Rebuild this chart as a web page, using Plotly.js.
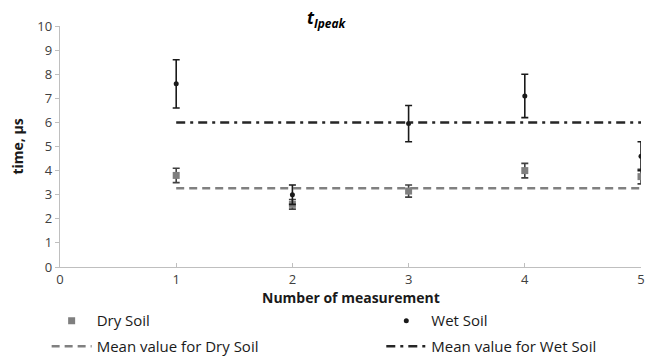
<!DOCTYPE html>
<html>
<head>
<meta charset="utf-8">
<script src="https://cdn.plot.ly/plotly-3.0.1.min.js"></script>
<style>
  html, body { margin: 0; padding: 0; background: #fff; }
  #chart { width: 648px; height: 356px; }
</style>
</head>
<body>
<div id="chart"></div>
<script>
// Measurement numbers
const measurement = [1, 2, 3, 4, 5];

// Time to current peak, µs
const drySoil = [3.8, 2.6, 3.15, 4.0, 3.75];
const dryError = [0.3, 0.2, 0.25, 0.3, 0.3];
const wetSoil = [7.6, 3.0, 5.95, 7.1, 4.6];
const wetError = [1.0, 0.4, 0.75, 0.9, 0.6];

// Mean levels drawn across the measurement range
const meanX = [1, 5];
const meanDry = [3.27, 3.27];
const meanWet = [6.0, 6.0];

const yTicks = [0, 1, 2, 3, 4, 5, 6, 7, 8, 9, 10];
const xTicks = [0, 1, 2, 3, 4, 5];

const FONT = 'Open Sans, Liberation Sans, sans-serif';

const traces = [
  {
    x: measurement, y: drySoil, name: 'Dry Soil', type: 'scatter', mode: 'markers',
    marker: { symbol: 'square', size: 7, color: '#7f7f7f' },
    error_y: { type: 'data', array: dryError, visible: true, color: '#404040', thickness: 1.6, width: 3.5 },
    legend: 'legend', legendgroup: 'a'
  },
  {
    x: meanX, y: meanDry, name: 'Mean value for Dry Soil', type: 'scatter', mode: 'lines',
    line: { color: '#808080', width: 2.5, dash: '8px,5px' },
    legend: 'legend', legendgroup: 'b'
  },
  {
    x: measurement, y: wetSoil, name: 'Wet Soil', type: 'scatter', mode: 'markers',
    marker: { symbol: 'circle', size: 5, color: '#1a1a1a' },
    error_y: { type: 'data', array: wetError, visible: true, color: '#1a1a1a', thickness: 1.6, width: 3.5 },
    legend: 'legend2', legendgroup: 'c'
  },
  {
    x: meanX, y: meanWet, name: 'Mean value for Wet Soil', type: 'scatter', mode: 'lines',
    line: { color: '#262626', width: 2.5, dash: '9px,5px,3px,5px' },
    legend: 'legend2', legendgroup: 'd'
  }
];

const legendStyle = {
  orientation: 'v', xanchor: 'left', yanchor: 'top', yref: 'container',
  font: { family: FONT, size: 15, color: '#1a1a1a' },
  bgcolor: 'rgba(0,0,0,0)', traceorder: 'grouped', tracegroupgap: 3, itemwidth: 40
};

const layout = {
  width: 648, height: 356,
  margin: { l: 60, r: 7, t: 26, b: 89 },
  paper_bgcolor: '#ffffff', plot_bgcolor: '#ffffff',
  showlegend: true,
  xaxis: {
    range: [0, 5], tickvals: xTicks, ticktext: xTicks.map(String),
    showgrid: false, zeroline: false, showline: true, linecolor: '#bfbfbf', linewidth: 1.3,
    ticks: 'inside', ticklen: 4, tickcolor: '#bfbfbf',
    tickfont: { family: FONT, size: 13, color: '#404040' }
  },
  yaxis: {
    range: [0, 10], tickvals: yTicks, ticktext: yTicks.map(String),
    showgrid: false, zeroline: false, showline: true, linecolor: '#bfbfbf', linewidth: 1.3,
    ticks: 'outside', ticklen: 4, tickcolor: '#bfbfbf',
    tickfont: { family: FONT, size: 13, color: '#404040' },
    title: { text: '<b>time, µs</b>', font: { family: FONT, size: 14, color: '#1a1a1a' }, standoff: 10 }
  },
  legend: Object.assign({}, legendStyle, { x: -0.023, y: 0.145 }),
  legend2: Object.assign({}, legendStyle, { x: 0.553, y: 0.145 }),
  annotations: [
    {
      xref: 'paper', yref: 'paper', x: 0.46, y: 1.03, xanchor: 'center', yanchor: 'middle',
      showarrow: false,
      text: '<b><i>t<sub>Ipeak</sub></i></b>',
      font: { family: FONT, size: 17, color: '#000000' }
    },
    {
      // x-axis title, set a little lower than the default position
      xref: 'paper', yref: 'paper', x: 0.5, y: -0.128, xanchor: 'center', yanchor: 'middle',
      showarrow: false,
      text: '<b>Number of measurement</b>',
      font: { family: FONT, size: 14, color: '#1a1a1a' }
    }
  ]
};

Plotly.newPlot('chart', traces, layout, { displayModeBar: false, staticPlot: true });
</script>
</body>
</html>
